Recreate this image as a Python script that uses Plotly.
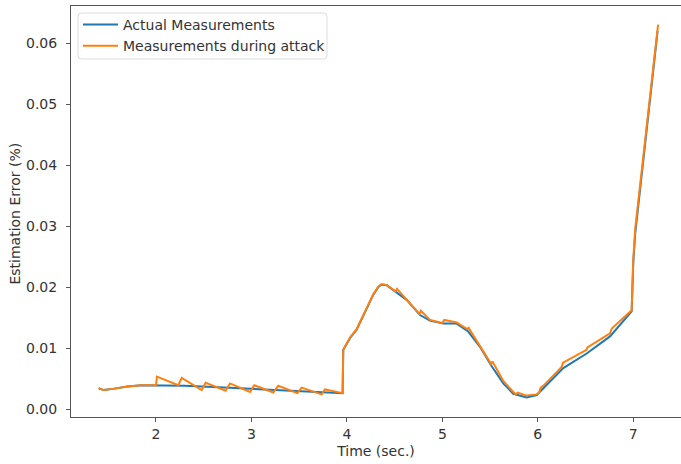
import plotly.graph_objects as go

# Actual (unattacked) estimation error
t_actual = [1.40, 1.45, 1.55, 1.70, 1.85, 2.00, 2.30, 2.60, 2.90, 3.20, 3.50, 3.80, 3.955,
            3.962, 4.032, 4.102, 4.190, 4.276, 4.330, 4.364, 4.417, 4.486, 4.626, 4.766, 4.870,
            5.010, 5.150, 5.271, 5.394, 5.517, 5.638, 5.743, 5.883, 5.988, 6.057, 6.267,
            6.512, 6.756, 6.983, 7.000, 7.020, 7.190, 7.255]
err_actual = [0.0034, 0.0031, 0.0033, 0.0037, 0.0039, 0.0039, 0.0038, 0.0036, 0.0034, 0.0032,
              0.0030, 0.0028, 0.0026,
              0.0097, 0.0116, 0.0130, 0.0160, 0.0187, 0.0200, 0.0204, 0.0203, 0.0195, 0.0179,
              0.0154, 0.0145, 0.0140, 0.0140, 0.0127, 0.0102, 0.0070, 0.0042, 0.0025, 0.0019,
              0.0023, 0.0034, 0.0067, 0.0091, 0.0119, 0.0160, 0.0240, 0.0287, 0.0530, 0.0620]

# Estimation error while the measurements are under attack
t_attack = [1.40, 1.45, 1.55, 1.70, 1.85, 2.00,
            2.010, 2.234, 2.270, 2.479, 2.521, 2.730, 2.775, 2.985, 3.030, 3.229, 3.281,
            3.480, 3.526, 3.736, 3.770, 3.955,
            3.962, 4.032, 4.102, 4.190, 4.276, 4.330, 4.364, 4.417, 4.490, 4.510, 4.525, 4.626,
            4.760, 4.775, 4.870, 5.000, 5.020, 5.150, 5.260, 5.275, 5.394, 5.510, 5.525,
            5.638, 5.743, 5.770, 5.790, 5.883, 5.988, 6.015, 6.030, 6.057, 6.250, 6.265,
            6.510, 6.520, 6.756, 6.775, 6.983, 7.000, 7.020, 7.190, 7.260]
err_attack = [0.0034, 0.0031, 0.0033, 0.0037, 0.0039, 0.0039,
              0.0053, 0.0039, 0.0051, 0.0031, 0.0043, 0.0030, 0.0042, 0.0028, 0.0039, 0.0027,
              0.0038, 0.0026, 0.0035, 0.0024, 0.0032, 0.0026,
              0.0097, 0.0117, 0.0131, 0.0161, 0.0188, 0.0201, 0.0205, 0.0203, 0.0196, 0.0193,
              0.0197, 0.0180, 0.0156, 0.0161, 0.0146, 0.0141, 0.0146, 0.0142, 0.0131, 0.0133,
              0.0104, 0.0074, 0.0078, 0.0046, 0.0028, 0.0024, 0.0027, 0.0022, 0.0024, 0.0027,
              0.0035, 0.0038, 0.0069, 0.0076, 0.0097, 0.0101, 0.0124, 0.0132, 0.0162, 0.0245,
              0.0295, 0.0540, 0.0630]

x_ticks = [2, 3, 4, 5, 6, 7]
y_ticks = [0.00, 0.01, 0.02, 0.03, 0.04, 0.05, 0.06]
y_tick_labels = ["0.00", "0.01", "0.02", "0.03", "0.04", "0.05", "0.06"]

FONT = "DejaVu Sans, Liberation Sans, sans-serif"
TEXT = "#333333"
SPINE = "#555555"
FS = 14

fig = go.Figure()
fig.add_trace(go.Scatter(x=t_actual, y=err_actual, mode="lines", name="Actual Measurements",
                         line=dict(color="#1f77b4", width=2)))
fig.add_trace(go.Scatter(x=t_attack, y=err_attack, mode="lines", name="Measurements during attack",
                         line=dict(color="#ff7f0e", width=2)))

# legend frame (rounded box behind the legend entries)
x0, x1, y0, y1, r = 0.0115, 0.4197, 0.871, 0.983, 0.006
ry = r * 610 / 411
fig.add_shape(
    type="path", xref="paper", yref="paper", layer="below",
    path=(f"M {x0 + r},{y1} L {x1 - r},{y1} Q {x1},{y1} {x1},{y1 - ry} "
          f"L {x1},{y0 + ry} Q {x1},{y0} {x1 - r},{y0} L {x0 + r},{y0} "
          f"Q {x0},{y0} {x0},{y0 + ry} L {x0},{y1 - ry} Q {x0},{y1} {x0 + r},{y1} Z"),
    line=dict(color="#dcdcdc", width=1), fillcolor="white",
)

# y-axis title
fig.add_annotation(text="Estimation Error (%)", xref="paper", yref="paper",
                   x=(15 - 71) / 610, y=0.495, textangle=-90, showarrow=False,
                   xanchor="center", yanchor="middle", font=dict(size=FS, color=TEXT))

fig.update_layout(
    width=681, height=464,
    margin=dict(l=71, r=0, t=6, b=47),
    paper_bgcolor="white", plot_bgcolor="white",
    font=dict(family=FONT, size=FS, color=TEXT),
    legend=dict(x=0.0115, y=0.9927, xanchor="left", yanchor="top",
                bgcolor="rgba(0,0,0,0)", borderwidth=0, itemwidth=35,
                font=dict(size=FS, color=TEXT), tracegroupgap=0),
    xaxis=dict(range=[1.110, 7.50], tickvals=x_ticks, showgrid=False, zeroline=False,
               showline=True, linecolor=SPINE, linewidth=1, mirror=True,
               ticks="outside", ticklen=4, tickcolor=SPINE,
               title=dict(text="Time (sec.)", standoff=5, font=dict(size=FS, color=TEXT))),
    yaxis=dict(range=[-0.00131, 0.06607], tickvals=y_ticks, ticktext=y_tick_labels,
               showgrid=False, zeroline=False, ticklabelstandoff=6,
               showline=True, linecolor=SPINE, linewidth=1, mirror=False,
               ticks="outside", ticklen=4, tickcolor=SPINE),
    showlegend=True,
)

fig.write_html("out.html")
